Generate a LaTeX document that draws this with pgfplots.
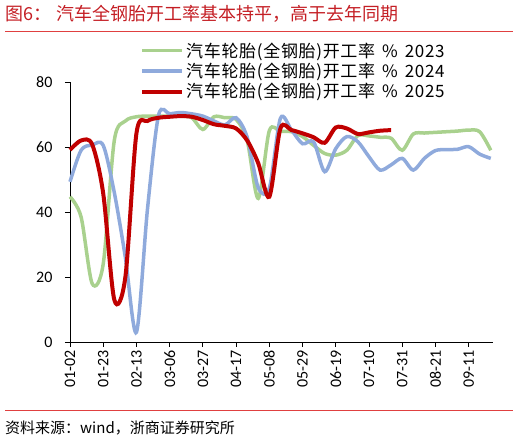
\documentclass[border=0pt]{standalone}
\usepackage{fontspec}
\setmainfont{Carlito}
\newfontfamily\cjk{Noto Sans CJK SC}
\newfontfamily\cjkwide[LetterSpace=4]{Noto Sans CJK SC}
\usepackage{pgfplots}
\usepackage{pgfplotstable}
\pgfplotsset{compat=1.18}
\definecolor{lgreen}{HTML}{A9D18E}
\definecolor{lblue}{HTML}{8FAADC}
\definecolor{dred}{HTML}{C00000}
\definecolor{titlered}{HTML}{C41E24}
\definecolor{rulered}{HTML}{E04040}

% week index (0 = 01-02), rate in %
\pgfplotstableread{
w y
0 44.7
1 38.5
2 18
3 24
4 62
5 68
6 69.3
7 69.5
8 69.5
9 69.5
10 69.5
11 69
12 65.4
13 69.3
14 69
15 68.5
16 62
17 44.2
18 65
19 64.8
20 64.7
21 63.2
22 60.5
23 58
24 57.5
25 59
26 63.5
27 63.4
28 63
29 62.7
30 59
31 64
32 64.3
33 64.5
34 64.7
35 64.9
36 65.2
37 64.7
38 59
}\yrA

\pgfplotstableread{
w y
0 49.3
1 59
2 60.6
3 60.5
4 46
5 26
6 3
7 41
8 69.8
9 70.2
10 70.6
11 70.2
12 69.5
13 68
14 66.8
15 69
16 63
17 47.5
18 47.3
19 68.8
20 65.2
21 61
22 61.6
23 52.4
24 59.5
25 63.2
26 61.6
27 57
28 52.9
29 54.5
30 56.5
31 52.9
32 56.5
33 58.9
34 59.2
35 59.3
36 60.1
37 57.8
38 56.5
}\yrB

\pgfplotstableread{
w y
0 59.1
1 62
2 60.8
3 45.7
4 13
5 20
6 64.2
7 68
8 69
9 69.3
10 69.5
11 69.3
12 68.3
13 67
14 66.5
15 65.7
16 62
17 55
18 44.7
19 65.7
20 65.2
21 64.2
22 63
23 61.3
24 66
25 65.7
26 64
27 64.5
28 65
29 65.2
}\yrC

\begin{document}
\begin{tikzpicture}
\useasboundingbox (0pt,0pt) rectangle (520pt,442pt);
\node[anchor=west, text=titlered, font=\cjk\fontsize{18}{20}\selectfont, inner sep=0pt]
  at (5pt,428pt) {图6：\hspace{5pt}汽车全钢胎开工率基本持平，高于去年同期};
\draw[rulered, line width=0.8pt] (5pt,411pt) -- (513pt,411pt);
\draw[rulered, line width=0.8pt] (5pt,32pt) -- (513pt,32pt);
\node[anchor=west, font=\cjk\fontsize{15}{17}\selectfont, inner sep=0pt]
  at (5pt,14pt) {资料来源：wind，浙商证券研究所};

\begin{axis}[
  at={(70pt,100pt)}, anchor=south west,
  scale only axis, width=423pt, height=260pt,
  xmin=0, xmax=38.2, ymin=0, ymax=80,
  axis x line=bottom, axis y line=left,
  axis line style={-, black, line width=0.8pt},
  tick align=outside, major tick length=5pt,
  tick style={black, line width=0.8pt},
  xtick={0,3,...,36},
  xticklabels={01-02,01-23,02-13,03-06,03-27,04-17,05-08,05-29,06-19,07-10,07-31,08-21,09-11},
  xticklabel style={rotate=90, anchor=east},
  ytick={0,20,40,60,80},
  yticklabel style={xshift=-9pt},
  ticklabel style={font=\fontsize{16}{18}\selectfont},
  /pgf/number format/assume math mode=true,
  clip=false,
  legend style={at={(0.1655,1.16)}, anchor=north west, draw=none, fill=none,
    font=\cjkwide\fontsize{17}{19}\selectfont, inner sep=0pt, row sep=0.5pt,
    /tikz/every even column/.append style={column sep=4pt}},
  legend cell align=left,
  legend image code/.code={\draw[#1] (0pt,0pt) -- (40pt,0pt);},
]
\addplot[lgreen, line width=3.5pt, smooth] table[x=w,y=y] {\yrA};
\addlegendentry{汽车轮胎(全钢胎)开工率\hspace{7pt}\%\hspace{7pt}2023}
\addplot[lblue, line width=3.5pt, smooth] table[x=w,y=y] {\yrB};
\addlegendentry{汽车轮胎(全钢胎)开工率\hspace{7pt}\%\hspace{7pt}2024}
\addplot[dred, line width=4pt, smooth] table[x=w,y=y] {\yrC};
\addlegendentry{汽车轮胎(全钢胎)开工率\hspace{7pt}\%\hspace{7pt}2025}
\end{axis}
\end{tikzpicture}
\end{document}
